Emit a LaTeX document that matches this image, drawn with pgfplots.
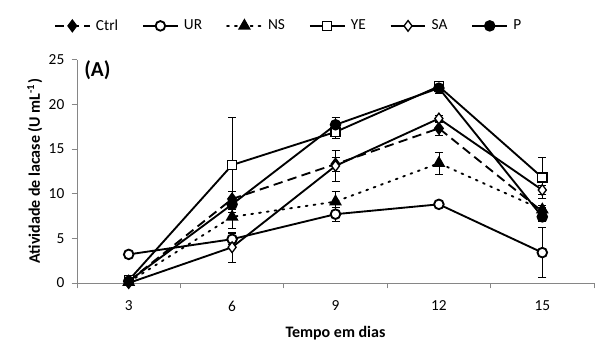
\documentclass[border=0pt]{standalone}
\usepackage{pgfplots}
\pgfplotsset{compat=1.18}
\usepackage{fontspec}
\setmainfont{Carlito}
\definecolor{axgray}{RGB}{134,134,134}
\begin{document}
\begin{tikzpicture}[x=1pt,y=1pt]
\begin{axis}[
  at={(0,0)}, anchor=south west,
  scale only axis, width=387.75pt, height=167.6pt,
  xmin=-0.5, xmax=4.5, ymin=0, ymax=25,
  axis x line*=bottom, axis y line*=left,
  axis line style={axgray, line width=0.6pt, -},
  xtick={0,1,2,3,4}, xticklabels={3,6,9,12,15},
  minor xtick={-0.5,0.5,1.5,2.5,3.5,4.5},
  major x tick style={draw=none},
  minor x tick style={axgray, line width=0.6pt},
  minor tick length=4pt,
  ytick={0,5,10,15,20,25},
  y tick style={axgray, line width=0.6pt},
  major tick length=4pt,
  tick align=outside,
  tick label style={font=\fontsize{11.5}{13}\selectfont},
  /pgf/number format/assume math mode=true,
  xticklabel style={yshift=-6pt},
  yticklabel style={xshift=-2pt},
  xlabel={\bfseries Tempo em dias},
  ylabel={\bfseries Atividade de lacase (U mL\textsuperscript{-1})},
  label style={font=\fontsize{12}{14}\selectfont},
  xlabel style={yshift=-4pt},
  ylabel style={yshift=-2pt},
  clip=false,
  legend columns=6,
  legend style={draw=none, fill=none, at={(159pt,193.5pt)}, anchor=center,
    font=\fontsize{11.5}{13}\selectfont,
    /tikz/every odd column/.append style={column sep=2pt},
    /tikz/every even column/.append style={column sep=16pt}},
  legend image code/.code={
    \draw[mark repeat=2,mark phase=2] plot coordinates {(0pt,0pt) (13pt,0pt) (26pt,0pt)};},
  every axis plot/.append style={black, line width=1.4pt},
  error bars/error bar style={black, line width=0.6pt, solid},
  error bars/error mark options={rotate=90, mark size=3pt, line width=0.6pt, solid},
]
\addplot[dash pattern=on 7pt off 4pt, mark=diamond*, mark size=4pt, mark options={solid, fill=black},
  error bars/.cd, y dir=both, y explicit] table[x=x,y=y,y error=e] {
x y e
0 0.2 0.1
1 9.4 0.8
2 13.3 0.8
3 17.3 0.8
4 8.0 0.5
};
\addlegendentry{Ctrl}
\addplot[solid, mark=*, mark size=3.6pt, mark options={solid, fill=white},
  error bars/.cd, y dir=both, y explicit] table[x=x,y=y,y error=e] {
x y e
0 3.2 0.2
1 4.9 0.6
2 7.7 0.8
3 8.8 0.3
4 3.4 2.8
};
\addlegendentry{UR}
\addplot[dash pattern=on 1.4pt off 4.5pt, line cap=round, mark=triangle*, mark size=4.2pt, mark options={solid, fill=black},
  error bars/.cd, y dir=both, y explicit] table[x=x,y=y,y error=e] {
x y e
0 0.1 0.1
1 7.4 1.3
2 9.1 1.1
3 13.4 1.2
4 8.2 0.5
};
\addlegendentry{NS}
\addplot[solid, mark=square*, mark size=3.4pt, mark options={solid, fill=white, line width=1pt},
  error bars/.cd, y dir=both, y explicit] table[x=x,y=y,y error=e] {
x y e
0 0.3 0.2
1 13.2 5.3
2 16.9 0.7
3 22.0 0.3
4 11.8 2.3
};
\addlegendentry{YE}
\addplot[solid, mark=diamond*, mark size=4pt, mark options={solid, fill=white, line width=1pt},
  error bars/.cd, y dir=both, y explicit] table[x=x,y=y,y error=e] {
x y e
0 0.0 0.1
1 4.0 1.7
2 13.1 1.7
3 18.4 0.4
4 10.4 0.5
};
\addlegendentry{SA}
\addplot[solid, mark=*, mark size=3.6pt, mark options={solid, fill=black},
  error bars/.cd, y dir=both, y explicit] table[x=x,y=y,y error=e] {
x y e
0 0.2 0.1
1 8.8 0.6
2 17.7 0.8
3 21.8 0.6
4 7.4 0.5
};
\addlegendentry{P}
\node[font=\bfseries\fontsize{16}{19}\selectfont, anchor=west] at (rel axis cs:0.005,0.953) {(A)};
\end{axis}
\pgfresetboundingbox
\path[use as bounding box] (-57.75pt,-51.75pt) rectangle (394.5pt,212.25pt);
\end{tikzpicture}
\end{document}
